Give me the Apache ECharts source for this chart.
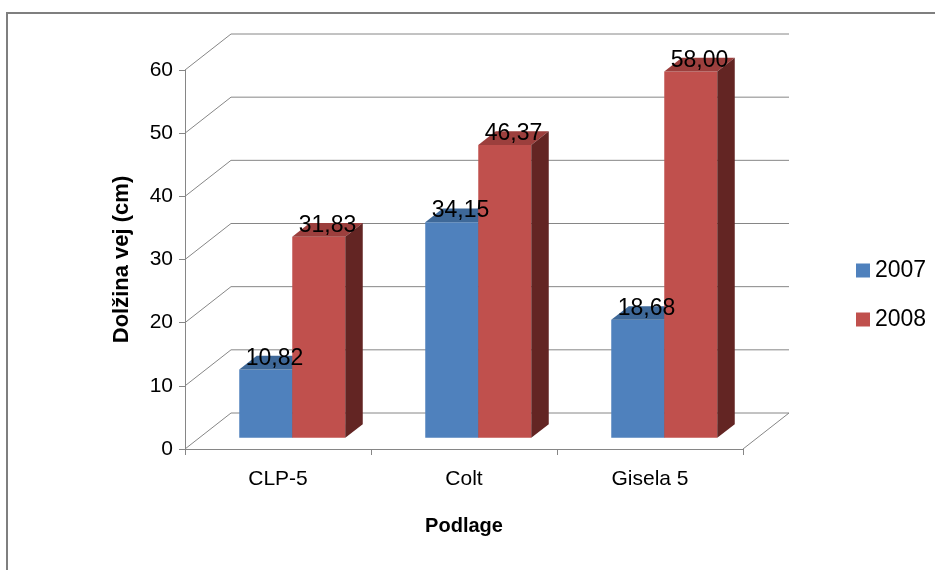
<!DOCTYPE html>
<html>
<head>
<meta charset="utf-8">
<title>Dolžina vej</title>
<script src="https://cdn.jsdelivr.net/npm/echarts@6/dist/echarts.min.js"></script>
<style>
  html, body { margin: 0; padding: 0; background: #fff; }
  #chart { width: 935px; height: 570px; }
</style>
</head>
<body>
<div id="chart"></div>
<script>
// data
var categories = ['CLP-5', 'Colt', 'Gisela 5']
var years = ['2007', '2008']
var values2007 = [10.82, 34.15, 18.68]
var values2008 = [31.83, 46.37, 58.00]
var yMin = 0
var yMax = 60
var yStep = 10

// 3d look
var DX = 46 // back wall offset
var DY = -36
var F = 0.31 // where the bars stand in the depth
var BD = 0.38 // bar depth, part of the wall offset
var BAR_W = 0.285 // part of the band
var LINE = '#868686'
var FONT = '"Liberation Sans", Arial, sans-serif'

var colors2007 = { front: '#4F81BD', top: '#3E6898', side: '#2C4D75' }
var colors2008 = { front: '#C0504D', top: '#9C3F3D', side: '#632523' }

function renderWalls(params, api) {
  var cs = params.coordSys
  var x0 = cs.x
  var x1 = cs.x + cs.width
  var children = []
  for (var v = yMin; v <= yMax; v += yStep) {
    var y = api.coord([0, v])[1]
    children.push({
      type: 'polyline',
      shape: { points: [[x0, y], [x0 + DX, y + DY], [x1 + DX, y + DY]] },
      style: { stroke: LINE, lineWidth: 1, fill: null }
    })
  }
  var yb = api.coord([0, yMin])[1]
  children.push({
    type: 'line',
    shape: { x1: x1, y1: yb, x2: x1 + DX, y2: yb + DY },
    style: { stroke: LINE, lineWidth: 1 }
  })
  return { type: 'group', children: children }
}

function barGeom(api, slot) {
  var idx = api.value(0)
  var v = api.value(1)
  var w = api.size([1, 0])[0] * BAR_W
  var base = api.coord([idx, yMin])
  var cx = base[0] + F * DX
  var yb = base[1] + F * DY
  var yt = api.coord([idx, v])[1] + F * DY
  var xl = slot === 0 ? cx - w : cx
  return { xl: xl, xr: xl + w, yb: yb, yt: yt, bdx: BD * DX, bdy: BD * DY }
}

function makeBar(slot, c) {
  return function (params, api) {
    var g = barGeom(api, slot)
    return {
      type: 'group',
      children: [
        {
          type: 'rect',
          shape: { x: g.xl, y: g.yt, width: g.xr - g.xl, height: g.yb - g.yt },
          style: { fill: c.front }
        },
        {
          type: 'polygon',
          shape: { points: [[g.xl, g.yt], [g.xr, g.yt], [g.xr + g.bdx, g.yt + g.bdy], [g.xl + g.bdx, g.yt + g.bdy]] },
          style: { fill: c.top }
        },
        {
          type: 'polygon',
          shape: { points: [[g.xr, g.yt], [g.xr + g.bdx, g.yt + g.bdy], [g.xr + g.bdx, g.yb + g.bdy], [g.xr, g.yb]] },
          style: { fill: c.side }
        }
      ]
    }
  }
}

function makeLabel(slot) {
  return function (params, api) {
    var g = barGeom(api, slot)
    return {
      type: 'text',
      style: {
        x: (g.xl + g.xr) / 2 + g.bdx / 2,
        y: g.yt - 11,
        text: api.value(1).toFixed(2).replace('.', ','),
        fill: '#000',
        font: '23px ' + FONT,
        align: 'center',
        verticalAlign: 'middle'
      }
    }
  }
}

function pairs(values) {
  return values.map(function (v, i) { return [i, v] })
}

var chart = echarts.init(document.getElementById('chart'))
chart.setOption({
  animation: false,
  textStyle: { fontFamily: FONT },
  graphic: [
    {
      type: 'rect',
      shape: { x: 7, y: 13, width: 1000, height: 1000 },
      style: { fill: null, stroke: '#7F7F7F', lineWidth: 2 },
      silent: true
    }
  ],
  grid: { left: 185, right: 192, top: 70, bottom: 121 },
  legend: {
    data: years,
    orient: 'vertical',
    left: 851,
    top: 254,
    icon: 'rect',
    itemWidth: 14,
    itemHeight: 14,
    itemGap: 26,
    textStyle: { fontSize: 23, color: '#000', fontFamily: FONT }
  },
  xAxis: {
    type: 'category',
    data: categories,
    name: 'Podlage',
    nameLocation: 'middle',
    nameGap: 67,
    nameTextStyle: { fontSize: 20, fontWeight: 'bold', color: '#000' },
    axisLine: { lineStyle: { color: LINE, width: 1 } },
    axisTick: { show: true, length: 6, lineStyle: { color: LINE } },
    axisLabel: { fontSize: 21, color: '#000', margin: 20 },
    splitLine: { show: false }
  },
  yAxis: {
    type: 'value',
    min: yMin,
    max: yMax,
    interval: yStep,
    name: 'Dolžina vej (cm)',
    nameLocation: 'middle',
    nameRotate: 90,
    nameGap: 52,
    nameTextStyle: { fontSize: 22, fontWeight: 'bold', color: '#000' },
    axisLine: { show: true, lineStyle: { color: LINE, width: 1 } },
    axisTick: { show: true, length: 6, lineStyle: { color: LINE } },
    axisLabel: { fontSize: 21, color: '#000', margin: 12 },
    splitLine: { show: false }
  },
  series: [
    {
      name: 'walls',
      type: 'custom',
      renderItem: renderWalls,
      data: [[0, yMin]],
      silent: true,
      z: 1
    },
    {
      name: years[0],
      type: 'custom',
      renderItem: makeBar(0, colors2007),
      itemStyle: { color: colors2007.front },
      data: pairs(values2007),
      z: 2
    },
    {
      name: years[1],
      type: 'custom',
      renderItem: makeBar(1, colors2008),
      itemStyle: { color: colors2008.front },
      data: pairs(values2008),
      z: 3
    },
    {
      name: years[0],
      type: 'custom',
      renderItem: makeLabel(0),
      itemStyle: { color: colors2007.front },
      data: pairs(values2007),
      z: 5
    },
    {
      name: years[1],
      type: 'custom',
      renderItem: makeLabel(1),
      itemStyle: { color: colors2008.front },
      data: pairs(values2008),
      z: 5
    }
  ]
})
</script>
</body>
</html>
